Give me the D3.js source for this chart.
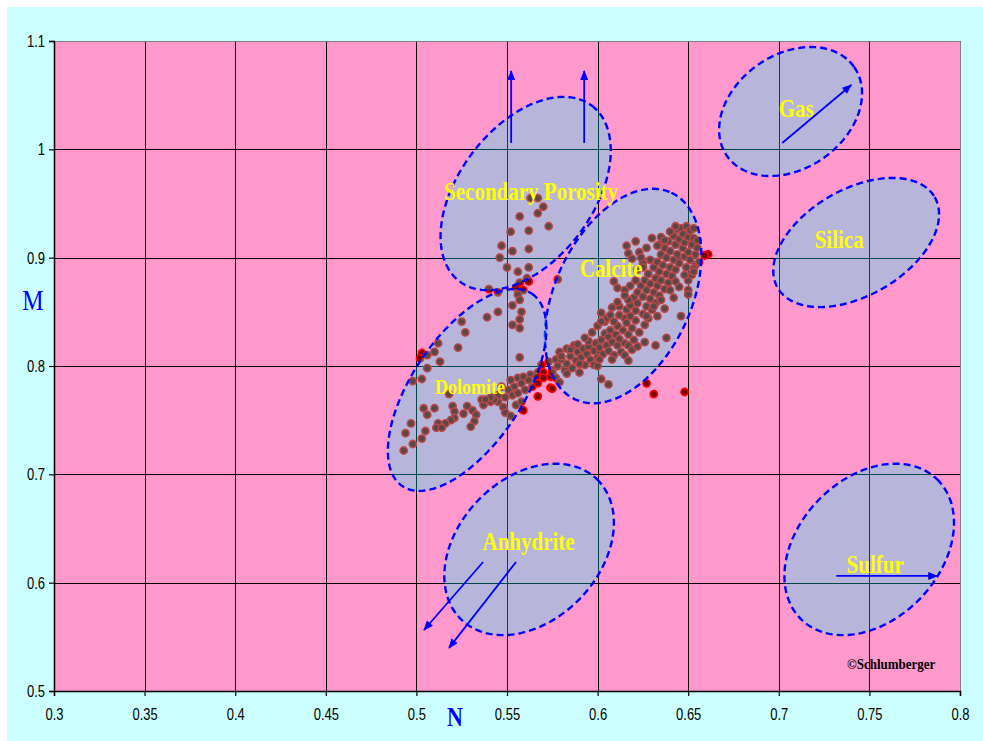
<!DOCTYPE html>
<html>
<head>
<meta charset="utf-8">
<script src="https://cdn.jsdelivr.net/npm/d3@7"></script>
<style>
  html, body { margin: 0; padding: 0; background: #ffffff; }
  svg { display: block; }
</style>
</head>
<body>
<svg id="chart" width="983" height="741"></svg>
<script>
// ---- axis ticks ----
const nTicks = [0.3, 0.35, 0.4, 0.45, 0.5, 0.55, 0.6, 0.65, 0.7, 0.75, 0.8];
const nTickLabels = ["0.3", "0.35", "0.4", "0.45", "0.5", "0.55", "0.6", "0.65", "0.7", "0.75", "0.8"];
const mTicks = [0.5, 0.6, 0.7, 0.8, 0.9, 1.0, 1.1];
const mTickLabels = ["0.5", "0.6", "0.7", "0.8", "0.9", "1", "1.1"];

// ---- M-N crossplot samples [N, M] ----
const porosityPts = [
  [0.563,0.955],[0.567,0.955],[0.570,0.947],[0.567,0.941],[0.557,0.938],[0.573,0.929],
  [0.562,0.925],[0.552,0.924],[0.547,0.911],[0.553,0.906],[0.562,0.908],[0.546,0.900],
  [0.550,0.891],[0.562,0.891],[0.556,0.887],[0.561,0.881],[0.578,0.880],[0.557,0.877],
  [0.540,0.871],[0.545,0.868],[0.555,0.872],[0.559,0.870],[0.562,0.878],[0.556,0.866],
  [0.557,0.861],[0.553,0.856],[0.558,0.850],[0.545,0.850],[0.539,0.845],[0.557,0.843],
  [0.557,0.835],[0.553,0.838]
];
const dolomitePts = [
  [0.525,0.841],[0.527,0.831],[0.512,0.821],[0.523,0.817],[0.510,0.813],[0.503,0.812],
  [0.502,0.807],[0.506,0.810],[0.513,0.804],[0.506,0.798],[0.503,0.788],[0.498,0.786],
  [0.518,0.774],[0.504,0.761],[0.510,0.761],[0.506,0.755],[0.520,0.763],[0.521,0.758],
  [0.528,0.763],[0.531,0.759],[0.526,0.756],[0.533,0.755],[0.521,0.752],[0.519,0.750],
  [0.516,0.747],[0.512,0.747],[0.511,0.743],[0.514,0.743],[0.532,0.749],[0.530,0.744],
  [0.497,0.747],[0.494,0.738],[0.505,0.740],[0.503,0.733],[0.498,0.728],[0.493,0.722],
  [0.536,0.769],[0.537,0.764],[0.541,0.767],[0.545,0.767],[0.548,0.762],[0.549,0.757],
  [0.552,0.754],[0.555,0.764],[0.558,0.767],[0.557,0.808],
  [0.552,0.787],[0.556,0.789],[0.559,0.790],[0.563,0.792],[0.567,0.794],[0.569,0.801],
  [0.573,0.804],[0.577,0.806],[0.575,0.796],[0.547,0.781],[0.551,0.778],[0.554,0.781],
  [0.558,0.784],[0.562,0.787],[0.566,0.790],[0.545,0.773],[0.549,0.771],[0.553,0.773],
  [0.556,0.775],[0.560,0.778],[0.543,0.769],[0.541,0.771],[0.538,0.769],[0.564,0.781],
  [0.567,0.784],
  [0.570,0.794],[0.570,0.789],[0.574,0.790],[0.574,0.780],[0.567,0.772],[0.559,0.759]
];
const calcitePts = [
  [0.575,0.794],[0.578,0.800],[0.577,0.789],[0.580,0.806],[0.582,0.796],[0.583,0.802],
  [0.585,0.809],[0.586,0.798],[0.588,0.805],[0.589,0.813],[0.590,0.794],[0.591,0.808],
  [0.592,0.816],[0.593,0.801],[0.594,0.811],[0.595,0.818],[0.596,0.806],[0.598,0.814],
  [0.599,0.821],[0.600,0.808],[0.601,0.817],[0.602,0.824],[0.603,0.811],[0.604,0.830],
  [0.605,0.819],[0.606,0.827],[0.606,0.814],[0.607,0.833],[0.608,0.822],[0.609,0.810],
  [0.610,0.829],[0.611,0.819],[0.611,0.837],[0.612,0.825],[0.613,0.813],[0.614,0.833],
  [0.615,0.844],[0.615,0.821],[0.616,0.852],[0.616,0.840],[0.617,0.829],[0.618,0.856],
  [0.618,0.846],[0.619,0.835],[0.620,0.863],[0.620,0.824],[0.621,0.851],[0.621,0.842],
  [0.622,0.868],[0.622,0.858],[0.623,0.831],[0.624,0.874],[0.625,0.848],[0.625,0.864],
  [0.626,0.838],[0.626,0.879],[0.627,0.855],[0.627,0.870],[0.628,0.844],[0.628,0.885],
  [0.629,0.862],[0.629,0.876],[0.630,0.852],[0.631,0.891],[0.631,0.868],[0.632,0.881],
  [0.632,0.858],[0.633,0.896],[0.633,0.874],[0.634,0.887],[0.634,0.865],[0.635,0.903],
  [0.635,0.879],[0.636,0.893],[0.637,0.871],[0.637,0.909],[0.638,0.885],[0.638,0.900],
  [0.639,0.877],[0.639,0.915],[0.640,0.891],[0.640,0.906],[0.641,0.883],[0.642,0.920],
  [0.642,0.898],[0.643,0.912],[0.643,0.889],[0.644,0.926],[0.644,0.903],[0.645,0.917],
  [0.645,0.895],[0.646,0.927],[0.647,0.909],[0.647,0.922],[0.648,0.901],[0.648,0.914],
  [0.649,0.929],[0.649,0.891],[0.650,0.919],[0.650,0.905],[0.651,0.925],[0.651,0.898],
  [0.652,0.912],[0.653,0.927],[0.653,0.918],[0.654,0.903],[0.655,0.909],[0.654,0.893],
  [0.579,0.813],[0.583,0.816],[0.587,0.819],[0.590,0.802],[0.595,0.823],[0.598,0.801],
  [0.601,0.806],[0.604,0.841],[0.609,0.841],[0.612,0.847],[0.617,0.819],[0.619,0.815],
  [0.609,0.878],[0.611,0.872],[0.615,0.870],[0.612,0.855],[0.617,0.861],
  [0.616,0.911],[0.621,0.915],[0.617,0.904],[0.623,0.905],[0.619,0.899],[0.625,0.895],
  [0.622,0.889],
  [0.643,0.929],[0.635,0.919],[0.634,0.912],[0.629,0.898],[0.625,0.891],[0.650,0.879],
  [0.652,0.884],[0.650,0.870],[0.645,0.873],[0.653,0.890],[0.655,0.916],
  [0.630,0.918],[0.627,0.909],[0.624,0.900],[0.633,0.911],[0.637,0.916],[0.640,0.924],
  [0.656,0.896],[0.653,0.887],[0.648,0.884],[0.643,0.878],[0.640,0.870],[0.635,0.861],
  [0.631,0.855],[0.627,0.846],[0.637,0.853],[0.633,0.846],[0.642,0.863],[0.621,0.879],
  [0.618,0.874],[0.615,0.865],[0.611,0.859],[0.608,0.854],[0.605,0.844],[0.600,0.837],
  [0.597,0.831],[0.593,0.826],[0.589,0.820],[0.585,0.815],[0.580,0.809],
  [0.583,0.793],[0.600,0.800],[0.608,0.806],[0.615,0.810],
  [0.602,0.849],[0.607,0.847],[0.602,0.841],[0.646,0.846],[0.650,0.866],[0.638,0.826],
  [0.632,0.819],[0.626,0.822],[0.622,0.818],[0.617,0.805],[0.602,0.788],[0.606,0.783],
  [0.579,0.785],
  [0.627,0.784],[0.631,0.774],[0.648,0.776],[0.661,0.903],[0.659,0.902],[0.575,0.779]
];

// ---- lithology zones: centre [N, M] and two conjugate half-axes in N/M units ----
const zoneNames   = ["Anhydrite", "Sulfur", "Gas", "Silica", "Secondary Porosity", "Calcite", "Dolomite"];
const zoneCenters = [[0.5622,0.6307],[0.7499,0.6307],[0.7065,1.0349],[0.7427,0.9140],[0.5603,0.9592],[0.6141,0.8646],[0.5280,0.7779]];
const zoneAxisU   = [[0.03742,0.0648],[0.03742,0.0648],[0.03508,0.04109],[0.04335,0.04186],[0.03653,0.0811],[0.02659,0.09537],[0.0358,0.08877]];
const zoneAxisV   = [[0.0281,-0.0454],[0.0281,-0.0454],[0.01804,-0.0431],[0.01465,-0.04245],[0.02953,-0.03722],[0.03401,-0.02653],[0.02516,-0.0284]];

// zone captions, anchored at [N, M]
const captionText = ["Secondary Porosity", "Calcite", "Dolomite", "Anhydrite", "Gas", "Silica", "Sulfur"];
const captionPos  = [[0.5633,0.9532],[0.6075,0.8822],[0.5296,0.7742],[0.5619,0.6302],[0.7096,1.0299],[0.7333,0.9089],[0.7532,0.6090]];

// trend arrows [from, to] in N/M units
const arrowFrom = [[0.5523,1.0059],[0.5926,1.0059],[0.7019,1.0059],[0.5368,0.6191],[0.5550,0.6191],[0.7317,0.6062]];
const arrowTo   = [[0.5523,1.0723],[0.5926,1.0723],[0.7400,1.0594],[0.5042,0.5563],[0.5180,0.5398],[0.7874,0.6062]];

// ---------------------------------------------------------------
const svg = d3.select("#chart");
const W = 983, H = 741;
const plot = { left: 54, right: 960, top: 41, bottom: 691 };
const TALL = 1.2;   // text is set in a narrow, tall face

const x = d3.scaleLinear().domain([0.3, 0.8]).range([plot.left, plot.right]);
const y = d3.scaleLinear().domain([0.5, 1.1]).range([plot.bottom, plot.top]);

// backgrounds
svg.append("rect").attr("x", 7).attr("y", 7).attr("width", W - 7).attr("height", H - 7).attr("fill", "#ccffff");
svg.append("rect")
  .attr("x", plot.left).attr("y", plot.top)
  .attr("width", plot.right - plot.left).attr("height", plot.bottom - plot.top)
  .attr("fill", "#ff99cc");

// grid
const grid = svg.append("g").attr("shape-rendering", "crispEdges");
grid.selectAll("line.v").data(nTicks.slice(1, -1)).join("line")
  .attr("x1", d => Math.round(x(d)) + 0.5).attr("x2", d => Math.round(x(d)) + 0.5)
  .attr("y1", plot.top).attr("y2", plot.bottom)
  .attr("stroke", "#000").attr("stroke-width", 1);
grid.selectAll("line.h").data(mTicks.slice(1, -1)).join("line")
  .attr("y1", d => Math.round(y(d)) + 0.5).attr("y2", d => Math.round(y(d)) + 0.5)
  .attr("x1", plot.left).attr("x2", plot.right)
  .attr("stroke", "#000").attr("stroke-width", 1);
// top / right frame
grid.append("path")
  .attr("d", `M${plot.left},${plot.top + 0.5}H${plot.right + 0.5}V${plot.bottom}`)
  .attr("fill", "none").attr("stroke", "#808080").attr("stroke-width", 1.5);

// samples
const samples = porosityPts.concat(dolomitePts, calcitePts);
svg.append("g").selectAll("circle").data(samples).join("circle")
  .attr("cx", d => x(d[0])).attr("cy", d => y(d[1]))
  .attr("r", 3.6)
  .attr("fill", "#7d0000")
  .attr("stroke", "#ff0000")
  .attr("stroke-width", 1.6);

// zones: translucent cyan shapes laid over samples and grid
const ellipsePath = (c, u, v) => {
  const pts = d3.range(0, 144).map(i => {
    const t = i / 144 * 2 * Math.PI;
    return [x(c[0] + u[0] * Math.cos(t) + v[0] * Math.sin(t)),
            y(c[1] + u[1] * Math.cos(t) + v[1] * Math.sin(t))];
  });
  return d3.line().curve(d3.curveLinearClosed)(pts);
};
const zones = svg.append("g");
zoneNames.forEach((name, i) => {
  zones.append("path")
    .attr("d", ellipsePath(zoneCenters[i], zoneAxisU[i], zoneAxisV[i]))
    .attr("fill", "#00ffff")
    .attr("fill-opacity", 0.28)
    .attr("stroke", "#0000ff")
    .attr("stroke-width", 2.4)
    .attr("stroke-dasharray", "7,4");
});

// arrows
svg.append("defs").append("marker")
  .attr("id", "head").attr("viewBox", "0 0 10 8")
  .attr("refX", 9).attr("refY", 4)
  .attr("markerWidth", 11).attr("markerHeight", 8)
  .attr("markerUnits", "userSpaceOnUse").attr("orient", "auto")
  .append("path").attr("d", "M0,0L10,4L0,8Z").attr("fill", "#0000ff");
svg.append("g").selectAll("line").data(arrowFrom).join("line")
  .attr("x1", d => x(d[0])).attr("y1", d => y(d[1]))
  .attr("x2", (d, i) => x(arrowTo[i][0])).attr("y2", (d, i) => y(arrowTo[i][1]))
  .attr("stroke", "#0000ff").attr("stroke-width", 1.8)
  .attr("marker-end", "url(#head)");

// zone captions
svg.append("g").selectAll("text").data(captionText).join("text")
  .attr("transform", (d, i) => `translate(${x(captionPos[i][0])},${y(captionPos[i][1])}) scale(1,${TALL})`)
  .attr("text-anchor", "middle")
  .attr("font-family", "'Liberation Serif', 'Times New Roman', serif")
  .attr("font-weight", "bold")
  .attr("font-size", d => d === "Dolomite" ? 18 : 21)
  .attr("fill", "#ffff00")
  .text(d => d);

svg.append("text")
  .attr("transform", `translate(${x(0.762)},${y(0.5204)}) scale(1,${TALL})`)
  .attr("text-anchor", "middle")
  .attr("font-family", "'Liberation Serif', 'Times New Roman', serif")
  .attr("font-weight", "bold").attr("font-size", 13).attr("fill", "#000")
  .text("©Schlumberger");

// axes
const axisFont = "'Liberation Sans', Arial, sans-serif";
const xAxis = svg.append("g").attr("transform", `translate(0,${plot.bottom})`)
  .call(d3.axisBottom(x).tickValues(nTicks).tickFormat((d, i) => nTickLabels[i]).tickSize(5));
const yAxis = svg.append("g").attr("transform", `translate(${plot.left},0)`)
  .call(d3.axisLeft(y).tickValues(mTicks).tickFormat((d, i) => mTickLabels[i]).tickSize(5).tickPadding(4));
[xAxis, yAxis].forEach(g => {
  g.select(".domain").attr("stroke", "#000").attr("stroke-width", 1.5);
  g.selectAll(".tick line").attr("stroke", "#000").attr("stroke-width", 1.2);
  g.selectAll(".tick text").attr("font-family", axisFont).attr("font-size", 13).attr("fill", "#000");
});
xAxis.selectAll(".tick text").attr("y", 0).attr("dy", 0)
  .attr("transform", `translate(0,29) scale(1,${TALL})`);
yAxis.selectAll(".tick text").attr("dy", 0)
  .attr("transform", `translate(0,5.5) scale(1,${TALL})`);

// axis titles
svg.append("text").attr("transform", `translate(33,310) scale(1,${TALL})`).attr("text-anchor", "middle")
  .attr("font-family", "'Liberation Serif', 'Times New Roman', serif")
  .attr("font-size", 24).attr("fill", "#0000ff").text("M");
svg.append("text").attr("transform", `translate(455,726) scale(1,${TALL})`).attr("text-anchor", "middle")
  .attr("font-family", "'Liberation Serif', 'Times New Roman', serif")
  .attr("font-weight", "bold")
  .attr("font-size", 22).attr("fill", "#0000ff").text("N");
</script>
</body>
</html>
